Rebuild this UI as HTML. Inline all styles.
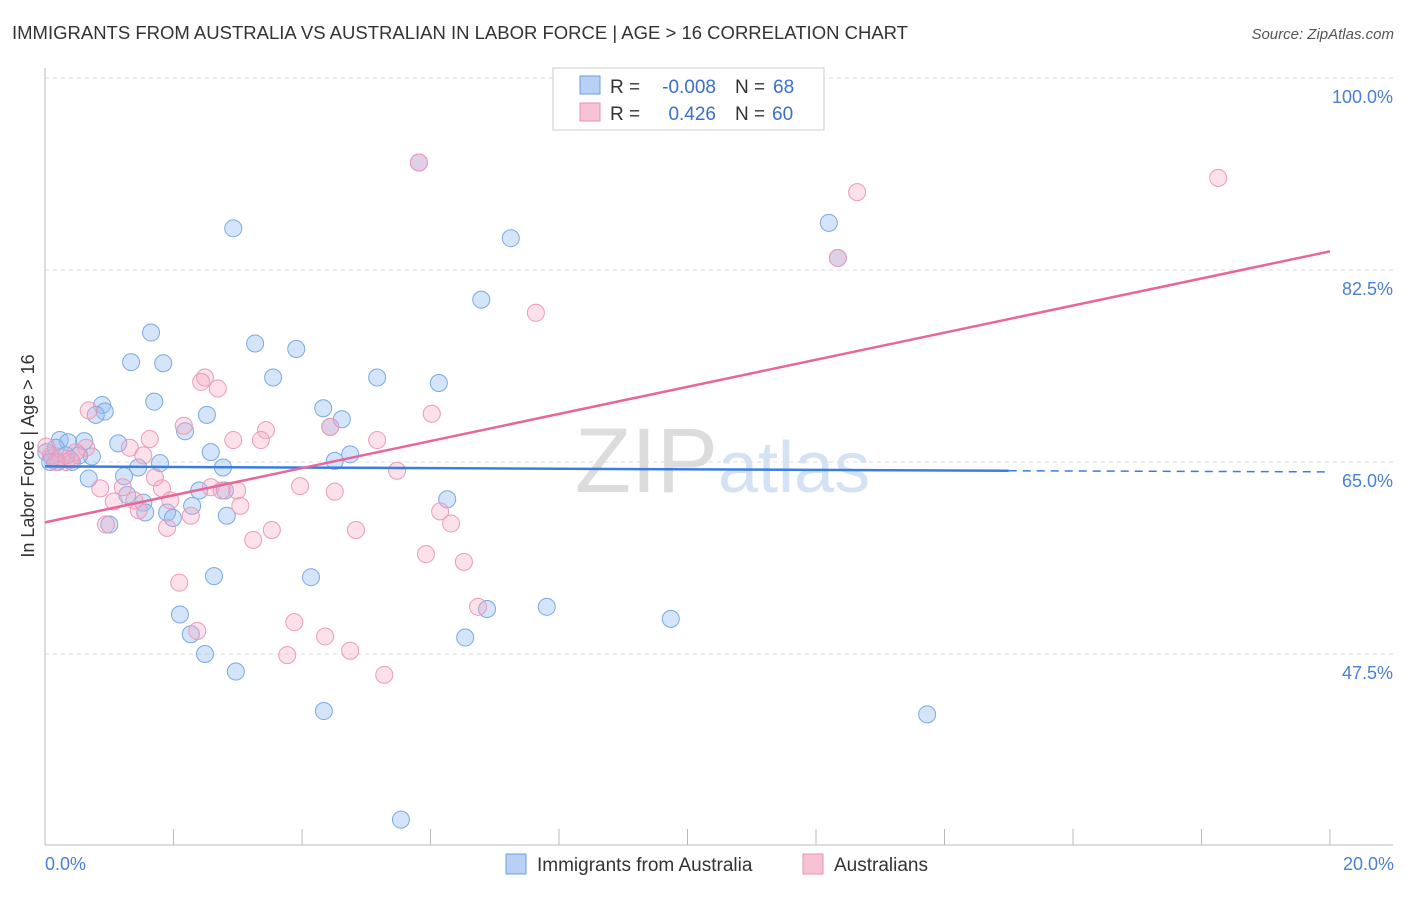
<!DOCTYPE html>
<html><head><meta charset="utf-8"><style>
body{margin:0;background:#fff;font-family:"Liberation Sans",sans-serif;}
svg text{font-family:"Liberation Sans",sans-serif;}
</style></head><body>
<svg id="chart" width="1406" height="892">
<text x="12" y="39" font-size="18" fill="#333" textLength="896" lengthAdjust="spacingAndGlyphs">IMMIGRANTS FROM AUSTRALIA VS AUSTRALIAN IN LABOR FORCE | AGE &gt; 16 CORRELATION CHART</text>
<text x="1394" y="39" font-size="15" fill="#555" font-style="italic" text-anchor="end">Source: ZipAtlas.com</text>
<text x="718" y="492" font-size="92" fill="#dcdcdc" text-anchor="end" font-family="Liberation Serif">ZIP</text>
<text x="718" y="492" font-size="72" fill="#d3e2f4">atlas</text>
<g id="grid"></g>
<g id="axes"></g>
<g id="marks"></g>
<text transform="translate(34,456) rotate(-90)" font-size="18" fill="#333" text-anchor="middle">In Labor Force | Age &gt; 16</text>
<text x="45" y="870" font-size="18" fill="#4a7fd4">0.0%</text>
<text x="1394" y="870" font-size="18" fill="#4a7fd4" text-anchor="end">20.0%</text>
<g>
<rect x="553" y="68" width="271" height="62" fill="#fff" stroke="#ccc"/>
<rect x="580" y="76" width="20" height="18" fill="#b7d0f3" stroke="#6a9fe0"/>
<rect x="580" y="103" width="20" height="18" fill="#f7c3d4" stroke="#e890b0"/>
<text x="610" y="93" font-size="19" fill="#333">R =</text>
<text x="716" y="93" font-size="19" fill="#3a6fd0" text-anchor="end">-0.008</text>
<text x="735" y="93" font-size="19" fill="#333">N =</text>
<text x="773" y="93" font-size="19" fill="#3a6fd0">68</text>
<text x="610" y="120" font-size="19" fill="#333">R =</text>
<text x="716" y="120" font-size="19" fill="#3a6fd0" text-anchor="end">0.426</text>
<text x="735" y="120" font-size="19" fill="#333">N =</text>
<text x="772" y="120" font-size="19" fill="#3a6fd0">60</text>
</g>
<g><rect x="506" y="854" width="20" height="20" fill="#b7d0f3" stroke="#6a9fe0"/><text x="537" y="871" font-size="19" fill="#333">Immigrants from Australia</text></g>
<g><rect x="803" y="854" width="20" height="20" fill="#f7c3d4" stroke="#e890b0"/><text x="834" y="871" font-size="19" fill="#333">Australians</text></g>
</svg>
<script>
const yTicks=[100,82.5,65,47.5];
const yTickLabels=["100.0%","82.5%","65.0%","47.5%"];
const blueX=[2.93,5.82,7.25,12.20,6.79,1.65,1.34,1.84,3.27,3.91,3.55,5.17,6.13,1.70,0.89,0.93,0.79,2.52,4.33,4.62,4.44,2.18,0.23,0.36,0.61,1.14,2.58,4.75,4.51,0.73,1.79,1.45,2.77,1.23,0.68,0.02,0.11,0.20,0.42,1.28,2.40,1.53,2.29,1.90,1.56,1.99,2.83,6.26,1.00,2.63,4.14,2.10,2.27,2.49,2.97,6.88,7.81,9.74,6.54,4.34,13.73,5.54,12.34,0.17,0.08,2.80,0.33,0.53];
const blueY=[86.3,92.3,85.4,86.8,79.8,76.8,74.1,74.0,75.8,75.3,72.7,72.7,72.2,70.5,70.2,69.6,69.3,69.3,69.9,68.9,68.2,67.8,67.0,66.8,66.9,66.7,65.9,65.7,65.1,65.5,64.9,64.5,64.5,63.7,63.5,65.9,65.4,65.0,65.0,62.0,62.4,61.3,61.0,60.4,60.4,59.9,60.1,61.6,59.3,54.6,54.5,51.1,49.3,47.5,45.9,51.6,51.8,50.7,49.0,42.3,42.0,32.4,83.6,66.3,65.0,62.4,65.6,65.6];
const pinkX=[18.26,12.64,7.64,12.34,5.82,2.49,2.43,2.69,6.02,0.68,2.16,3.44,1.63,2.93,3.36,5.17,0.64,1.32,1.53,0.48,0.33,5.48,1.71,0.86,1.21,1.82,2.58,2.99,3.97,4.51,1.07,1.39,1.95,3.04,6.15,6.32,0.95,1.90,2.27,3.53,4.84,3.24,5.93,6.52,2.09,6.74,3.88,2.37,4.36,4.75,3.77,5.28,4.44,0.09,0.25,0.02,0.40,2.75,1.46,0.17];
const pinkY=[90.9,89.6,78.6,83.6,92.3,72.7,72.3,71.7,69.4,69.7,68.3,67.9,67.1,67.0,67.0,67.0,66.3,66.3,65.6,65.9,65.0,64.2,63.6,62.6,62.7,62.6,62.7,62.4,62.8,62.3,61.4,61.5,61.5,61.0,60.5,59.4,59.3,59.0,60.1,58.8,58.8,57.9,56.6,55.9,54.0,51.8,50.4,49.6,49.1,47.8,47.4,45.6,68.2,65.6,65.4,66.4,65.2,62.4,60.6,65.0];
const blueTrend=[64.6,64.2,64.1]; const blueTrendX=[0,15,20];
const pinkTrend=[59.5,84.2]; const pinkTrendX=[0,20];
const xTicks=[0,2,4,6,8,10,12,14,16,18,20];

const X=v=>45+v*64.25;
const Y=v=>462-(v-65)*10.971;
const NS="http://www.w3.org/2000/svg";
function mk(tag,attrs,parent){const e=document.createElementNS(NS,tag);for(const k in attrs)e.setAttribute(k,attrs[k]);document.getElementById(parent).appendChild(e);return e;}
yTicks.forEach((t,i)=>{
 const l=mk('line',{x1:45,x2:1393,y1:Y(t),y2:Y(t),stroke:'#ddd','stroke-dasharray':'4,4'},'grid');
 
 
 const tx=mk('text',{x:1393,y:Y(t)+25,'font-size':18,fill:'#4a7fd4','text-anchor':'end'},'grid');
 tx.textContent=yTickLabels[i];
 
 
});
const ya=mk('line',{x1:45,x2:45,y1:68,y2:845,stroke:'#bbb'},'axes');


const xa=mk('line',{x1:45,x2:1393,y1:845,y2:845,stroke:'#bbb'},'axes');


xTicks.forEach(t=>{
 const l=mk('line',{x1:X(t),x2:X(t),y1:829,y2:845,stroke:'#bbb'},'axes');
 
 
});
blueX.forEach((v,i)=>{
 const c=mk('circle',{cx:X(v),cy:Y(blueY[i]),r:8.5,fill:'rgba(150,190,240,0.4)',stroke:'#7aa8e6','stroke-width':1},'marks');
 
 
});
pinkX.forEach((v,i)=>{
 const c=mk('circle',{cx:X(v),cy:Y(pinkY[i]),r:8.5,fill:'rgba(245,170,195,0.35)',stroke:'#ec9ab8','stroke-width':1},'marks');
 
 
});
const b1=mk('line',{x1:X(blueTrendX[0]),y1:Y(blueTrend[0]),x2:X(blueTrendX[1]),y2:Y(blueTrend[1]),stroke:'#3a7de0','stroke-width':2.5},'marks');


const b2=mk('line',{x1:X(blueTrendX[1]),y1:Y(blueTrend[1]),x2:X(blueTrendX[2]),y2:Y(blueTrend[2]),stroke:'#3a7de0','stroke-width':1.5,'stroke-dasharray':'8,6'},'marks');


const p1=mk('line',{x1:X(pinkTrendX[0]),y1:Y(pinkTrend[0]),x2:X(pinkTrendX[1]),y2:Y(pinkTrend[1]),stroke:'#e8679a','stroke-width':2.5},'marks');


</script>
</body></html>
